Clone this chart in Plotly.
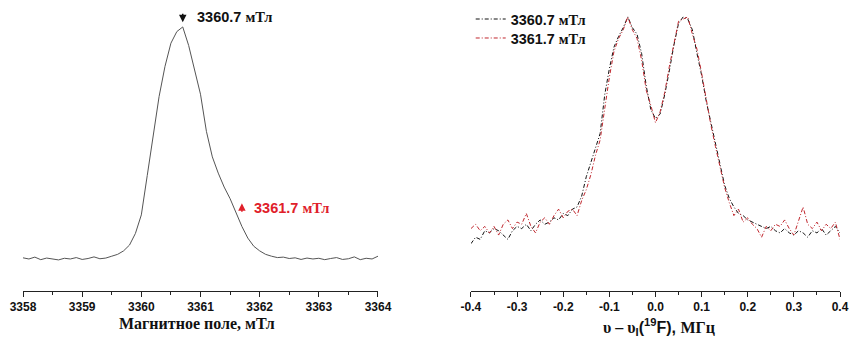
import plotly.graph_objects as go
from plotly.subplots import make_subplots

# ---- Left panel: EPR line ----
field_mT = [3358.0, 3358.1, 3358.2, 3358.3, 3358.4, 3358.5, 3358.6, 3358.7, 3358.8, 3358.9,
            3359.0, 3359.1, 3359.2, 3359.3, 3359.4, 3359.5, 3359.6, 3359.7, 3359.8, 3359.9,
            3360.0, 3360.1, 3360.2, 3360.3, 3360.4, 3360.5, 3360.6, 3360.7, 3360.8, 3360.9,
            3361.0, 3361.1, 3361.2, 3361.3, 3361.4, 3361.5, 3361.6, 3361.7, 3361.8, 3361.9,
            3362.0, 3362.1, 3362.2, 3362.3, 3362.4, 3362.5, 3362.6, 3362.7, 3362.8, 3362.9,
            3363.0, 3363.1, 3363.2, 3363.3, 3363.4, 3363.5, 3363.6, 3363.7, 3363.8, 3363.9, 3364.0]
epr_signal = [0.005, 0.0, 0.008, -0.003, 0.004, 0.0, -0.004, 0.003, 0.0, 0.006,
              -0.002, 0.002, 0.009, 0.001, 0.004, 0.012, 0.02, 0.035, 0.06, 0.11,
              0.19, 0.36, 0.52, 0.70, 0.83, 0.93, 0.98, 1.0, 0.92, 0.82,
              0.71, 0.55, 0.44, 0.37, 0.31, 0.26, 0.20, 0.14, 0.09, 0.055,
              0.035, 0.02, 0.012, 0.006, 0.008, 0.002, 0.005, -0.002, 0.004, 0.0,
              0.003, -0.003, 0.002, 0.006, -0.002, 0.001, 0.009, -0.003, 0.003, 0.0, 0.012]
left_ticks = [3358, 3359, 3360, 3361, 3362, 3363, 3364]

# ---- Right panel: ENDOR spectra ----
freq_MHz = [round(-0.40 + 0.01 * i, 2) for i in range(81)]
endor_3360_7 = [-0.05, -0.02, -0.03, 0.01, 0.0, 0.02, 0.01, -0.01, -0.03, 0.01,
                0.03, 0.02, 0.04, 0.01, 0.04, 0.06, 0.04, 0.05, 0.07, 0.06,
                0.09, 0.08, 0.11, 0.12, 0.17, 0.26, 0.33, 0.39, 0.46, 0.64,
                0.76, 0.86, 0.91, 0.95, 1.0, 0.95, 0.92, 0.83, 0.68, 0.57,
                0.53, 0.55, 0.64, 0.75, 0.87, 0.97, 1.0, 0.99, 0.94, 0.83,
                0.73, 0.61, 0.51, 0.42, 0.31, 0.22, 0.16, 0.12, 0.09, 0.08,
                0.06, 0.05, 0.04, 0.03, 0.02, 0.03, 0.01, 0.0, 0.02, 0.0,
                -0.01, 0.01, 0.0, -0.02, 0.01, 0.0, 0.02, -0.01, 0.01, 0.03, 0.0]
endor_3361_7 = [0.02, 0.04, 0.01, 0.03, 0.0, 0.03, -0.01, 0.04, 0.06, 0.02,
                0.05, 0.04, 0.09, 0.03, 0.0, 0.05, 0.07, 0.04, 0.08, 0.11,
                0.07, 0.10, 0.11, 0.08, 0.15, 0.20, 0.27, 0.36, 0.43, 0.58,
                0.72, 0.84, 0.90, 0.94, 1.0, 0.94, 0.90, 0.80, 0.66, 0.59,
                0.51, 0.56, 0.65, 0.77, 0.88, 0.98, 0.99, 1.0, 0.92, 0.85,
                0.74, 0.62, 0.50, 0.40, 0.30, 0.21, 0.14, 0.08, 0.11, 0.05,
                0.07, 0.04, 0.02, -0.02, 0.03, 0.01, 0.04, 0.03, 0.06, 0.02,
                -0.01, 0.05, 0.12, 0.04, 0.02, 0.05, 0.01, 0.04, 0.02, 0.05, -0.03]
right_ticks = [-0.4, -0.3, -0.2, -0.1, 0.0, 0.1, 0.2, 0.3, 0.4]
right_ticktext = ["-0.4", "-0.3", "-0.2", "-0.1", "0.0", "0.1", "0.2", "0.3", "0.4"]
series_names = ["3360.7 мТл", "3361.7 мТл"]

SANS = "Liberation Sans, Arial, sans-serif"
SERIF = "Liberation Serif, Times New Roman, serif"

fig = make_subplots(rows=1, cols=2, horizontal_spacing=0.1138)

fig.add_trace(go.Scatter(x=field_mT, y=epr_signal, mode="lines",
                         line=dict(color="#555555", width=1), showlegend=False),
              row=1, col=1)

def legend_name(s):
    num, unit = s.split(" ")
    return f"{num} <span style='font-family:{SERIF}'>{unit}</span>"

fig.add_trace(go.Scatter(x=freq_MHz, y=endor_3360_7, mode="lines", name=legend_name(series_names[0]),
                         legend="legend",
                         line=dict(color="#111111", width=1, dash="4px,2px,1px,2px")),
              row=1, col=2)
fig.add_trace(go.Scatter(x=freq_MHz, y=endor_3361_7, mode="lines", name=legend_name(series_names[1]),
                         legend="legend2",
                         line=dict(color="#c0262d", width=1, dash="4px,2px,1px,2px")),
              row=1, col=2)

axis_common = dict(showline=True, linecolor="#222222", linewidth=1, ticks="outside",
                   ticklen=5, tickcolor="#222222", showgrid=False, zeroline=False,
                   tickfont=dict(family=SANS, size=12, color="#111111", weight="bold"))

fig.update_xaxes(range=[3358, 3364], tickvals=left_ticks,
                 minor=dict(ticks="outside", ticklen=3, dtick=0.5, tickcolor="#222222"),
                 domain=[0, 0.4345], row=1, col=1, **axis_common)
fig.update_xaxes(range=[-0.4, 0.4], tickvals=right_ticks, ticktext=right_ticktext,
                 minor=dict(ticks="outside", ticklen=3, dtick=0.05, tickcolor="#222222"),
                 domain=[0.5483, 1.0], row=1, col=2, **axis_common)
fig.update_yaxes(visible=False, range=[-0.138, 1.073], row=1, col=1)
fig.update_yaxes(visible=False, range=[-0.269, 1.032], row=1, col=2)

# peak markers
fig.add_annotation(x=3360.7, y=1.02, xref="x", yref="y", text="", showarrow=True,
                   arrowhead=2, arrowsize=1, arrowwidth=1.5, arrowcolor="#111111", ax=0, ay=-10)
fig.add_annotation(x=3360.91, y=1.043, xref="x", yref="y", xanchor="left", yanchor="middle",
                   text=f"3360.7 <span style='font-family:{SERIF}'>мТл</span>", showarrow=False,
                   font=dict(family=SANS, size=14.5, color="#111111", weight="bold"))
fig.add_annotation(x=3361.7, y=0.24, xref="x", yref="y", text="", showarrow=True,
                   arrowhead=2, arrowsize=1, arrowwidth=1.5, arrowcolor="#e0202a", ax=0, ay=10)
fig.add_annotation(x=3361.87, y=0.22, xref="x", yref="y", xanchor="left", yanchor="middle",
                   text=f"3361.7 <span style='font-family:{SERIF}'>мТл</span>", showarrow=False,
                   font=dict(family=SANS, size=14.5, color="#e0202a", weight="bold"))

# axis titles
fig.add_annotation(x=0.213, y=-0.117, xref="paper", yref="paper", xanchor="center", yanchor="middle",
                   text="Магнитное поле, мТл", showarrow=False,
                   font=dict(family=SERIF, size=16, color="#111111", weight="bold"))
fig.add_annotation(x=0.778, y=-0.128, xref="paper", yref="paper", xanchor="center", yanchor="middle",
                   text=(f"<span style='font-family:{SERIF}'>υ – υ</span><sub>I</sub>(<sup>19</sup>F), "
                         f"<span style='font-family:{SERIF}'>МГц</span>"),
                   showarrow=False,
                   font=dict(family=SANS, size=16, color="#111111", weight="bold"))

legend_font = dict(family=SANS, size=14.4, color="#111111", weight="bold")
fig.update_layout(
    width=851, height=337,
    margin=dict(l=23, r=11, t=10, b=46, autoexpand=False),
    paper_bgcolor="white", plot_bgcolor="white",
    legend=dict(x=0.548, y=1.0244, xanchor="left", yanchor="top", bgcolor="rgba(0,0,0,0)",
                font=legend_font),
    legend2=dict(x=0.548, y=0.9568, xanchor="left", yanchor="top", bgcolor="rgba(0,0,0,0)",
                 font=legend_font),
)

fig.write_html("out.html",
               config={"displayModeBar": False, "responsive": False},
               post_script="document.documentElement.style.overflow='hidden';document.body.style.margin='0';document.body.style.overflow='hidden';")
